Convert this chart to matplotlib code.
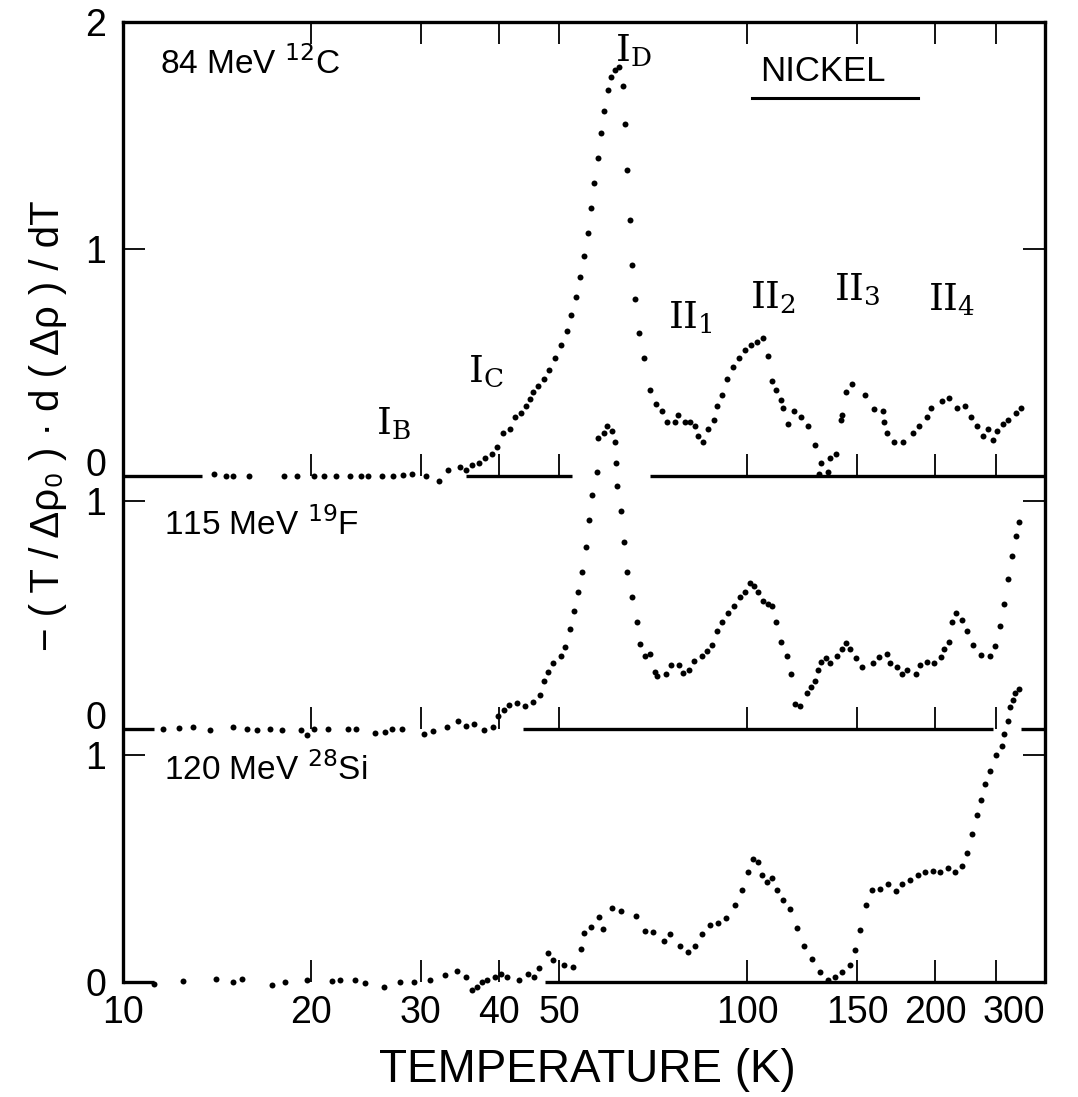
import matplotlib.pyplot as plt

# 84 MeV 12C on nickel (top trace)
c12_temp = [14.0, 14.6, 15.0, 15.9, 18.1, 19.0, 20.2, 21.0, 21.9, 23.1, 24.1, 24.7, 26.0, 27.1, 28.1, 29.0, 30.6,
            32.1, 33.2, 34.7, 35.4, 36.3, 37.2, 38.0, 39.0, 39.8, 40.6, 41.7, 42.5, 43.4, 44.2, 44.9, 45.4, 46.3,
            47.2, 48.2, 49.3, 50.4, 51.4, 52.3, 53.2, 54.0, 54.8, 55.5, 56.2, 56.9, 57.6, 58.3, 59.0, 59.8, 60.6,
            61.5, 62.4, 63.2, 63.8, 64.3, 64.8, 65.3, 66.0, 67.0, 68.3,
            69.9, 71.5, 73.1, 74.4, 76.5, 77.5, 79.4, 80.9, 82.5, 83.5, 84.8, 86.6, 88.5, 89.4, 91.2,
            92.9, 95.0, 97.1, 99.3, 101.5, 103.8, 106.1, 108.1,
            109.6, 111.1, 113.2, 114.2, 116.2, 119.0, 121.9, 125.3, 128.5, 131.4, 130.4, 134.7, 135.8, 138.9,
            141.5, 142.0, 144.1,
            147.3, 154.4, 159.7, 164.9, 165.8, 167.6, 172.0, 177.8, 184.2, 188.4, 194.3, 197.2, 205.3, 210.8,
            217.1, 223.4, 228.5, 233.6, 238.6, 243.0, 247.6, 251.6, 257.0, 261.8, 269.8, 274.5]
c12_val = [0.01, 0.0, 0.0, 0.0, 0.0, 0.0, 0.0, 0.0, 0.0, 0.0, 0.0, 0.0, 0.0, 0.0, 0.005, 0.01, 0.0,
           -0.02, 0.03, 0.04, 0.03, 0.05, 0.06, 0.08, 0.10, 0.13, 0.19, 0.21, 0.26, 0.28, 0.31, 0.34, 0.37, 0.40,
           0.43, 0.47, 0.52, 0.58, 0.64, 0.71, 0.79, 0.88, 0.97, 1.07, 1.18, 1.29, 1.40, 1.51, 1.61, 1.70, 1.76,
           1.79, 1.80, 1.72, 1.55, 1.35, 1.13, 0.93, 0.78, 0.63, 0.52,
           0.38, 0.32, 0.29, 0.24, 0.24, 0.27, 0.24, 0.24, 0.22, 0.18, 0.15, 0.21, 0.25, 0.31, 0.36,
           0.43, 0.48, 0.52, 0.555, 0.58, 0.59, 0.61, 0.53,
           0.42, 0.38, 0.335, 0.30, 0.23, 0.29, 0.26, 0.22, 0.14, 0.06, 0.01, 0.02, 0.08, 0.10,
           0.25, 0.27, 0.37,
           0.405, 0.36, 0.295, 0.29, 0.24, 0.19, 0.15, 0.15, 0.19, 0.22, 0.26, 0.30, 0.33, 0.345,
           0.30, 0.31, 0.26, 0.22, 0.18, 0.21, 0.16, 0.20, 0.23, 0.25, 0.28, 0.30]

# 115 MeV 19F (middle trace)
f19_temp = [11.6, 12.3, 12.95, 13.8, 15.0, 15.8, 16.4, 17.2, 18.0, 19.3, 19.7, 20.2, 21.3, 22.9, 23.6, 25.3,
            26.3, 27.0, 28.0, 30.3, 31.4, 33.0, 34.4, 35.4, 36.5, 37.9, 39.2, 39.9, 40.8, 41.6, 42.8, 44.1,
            45.4, 46.6, 47.3, 47.9, 48.9, 50.4, 51.0,
            52.0, 52.8, 53.6, 54.4, 55.2, 55.8, 56.4, 57.5, 57.6, 58.9, 59.7, 60.8, 61.5, 61.6, 61.9, 62.8, 63.5,
            64.3, 65.4, 66.6, 67.4,
            68.6, 69.9, 71.2, 71.7, 74.2, 75.4, 77.8, 78.9, 80.7, 82.2, 84.6, 86.2, 87.8,
            89.5, 91.2, 93.2, 95.3, 97.4, 99.3, 101.1, 102.6, 104.1, 106.1, 108.1, 109.6, 111.3, 113.4,
            115.8, 117.6, 119.1, 121.3, 124.6, 126.5, 128.2, 129.8, 131.3, 133.7, 135.5, 139.3, 141.9, 144.1,
            145.9, 149.5, 153.0, 159.1, 162.4, 167.5, 169.1, 173.8, 177.0, 180.3, 186.4, 189.3, 194.1, 198.9,
            204.4, 206.9, 210.2,
            213.1, 216.3, 221.1, 225.3, 230.0, 236.9, 244.6, 249.7, 254.0, 258.0, 262.0, 266.0, 270.0, 273.0]
f19_val = [0.0, 0.003, 0.006, -0.005, 0.006, 0.0, -0.005, 0.0, -0.005, -0.005, -0.027, 0.0, 0.0, 0.0, 0.0, -0.02,
           -0.015, 0.0, 0.0, -0.024, -0.01, 0.006, 0.032, 0.01, 0.02, -0.005, 0.006, 0.055, 0.084, 0.106, 0.113,
           0.098, 0.117, 0.147, 0.21, 0.25, 0.29, 0.32, 0.36,
           0.44, 0.52, 0.60, 0.69, 0.80, 0.92, 1.03, 1.13, 1.28, 1.30, 1.33, 1.31, 1.26, 1.17, 1.07, 0.96, 0.82,
           0.69, 0.58, 0.47, 0.374,
           0.32, 0.33, 0.25, 0.23, 0.24, 0.28, 0.28, 0.245, 0.26, 0.30, 0.32, 0.34, 0.37,
           0.43, 0.47, 0.51, 0.54, 0.58, 0.60, 0.64, 0.63, 0.60, 0.56, 0.55, 0.54, 0.47, 0.38,
           0.32, 0.24, 0.11, 0.10, 0.155, 0.185, 0.21, 0.26, 0.295, 0.31, 0.29, 0.32, 0.35, 0.375,
           0.35, 0.31, 0.27, 0.29, 0.315, 0.33, 0.29, 0.27, 0.24, 0.26, 0.24, 0.28, 0.295, 0.29,
           0.315, 0.35, 0.38,
           0.47, 0.51, 0.48, 0.43, 0.37, 0.325, 0.32, 0.365, 0.45, 0.55, 0.66, 0.76, 0.85, 0.91]

# 120 MeV 28Si (bottom trace)
si28_temp = [11.2, 12.5, 14.1, 15.0, 15.5, 17.3, 18.2, 19.7, 21.6, 22.3, 23.5, 24.4, 26.2, 27.8, 29.3, 31.0,
             32.8, 34.3, 35.4, 36.3, 36.9, 37.6, 38.3, 39.5, 40.3, 41.2, 43.1, 44.6, 45.5, 46.4, 47.9, 48.9,
             50.9, 52.6, 54.1, 54.8, 56.3, 57.9, 58.7, 60.7, 62.8, 66.3, 68.7, 70.6, 73.6,
             75.3, 78.1, 80.4, 82.5, 84.7, 87.2, 89.9, 92.5, 95.7, 98.2, 100.4, 102.2, 104.1, 105.7, 107.7,
             109.6, 111.7, 114.2, 117.2, 120.3, 123.4, 127.1, 130.9, 134.9, 138.4, 142.0, 146.3, 149.0, 151.8,
             155.2, 158.6, 163.4, 168.3, 173.4, 177.2, 182.5, 187.9, 192.9, 198.7, 203.9, 210.0, 215.4, 221.1,
             225.3, 229.4, 233.7, 237.1, 240.7, 245.2,
             250.6, 256.0, 257.5, 261.7, 264.0, 266.2, 268.9, 272.2]
si28_val = [-0.007, 0.004, 0.015, 0.0, 0.015, -0.015, 0.0, 0.007, 0.004, 0.007, 0.007, -0.004, -0.02, 0.0, 0.0,
            0.007, 0.03, 0.05, 0.02, -0.034, -0.02, 0.0, 0.007, 0.022, 0.037, 0.022, 0.01, 0.037, 0.022, 0.063,
            0.128, 0.095, 0.073, 0.066, 0.147, 0.216, 0.242, 0.286, 0.235, 0.327, 0.312, 0.289, 0.224, 0.22, 0.18,
            0.21, 0.16, 0.13, 0.16, 0.21, 0.25, 0.26, 0.28, 0.34, 0.405, 0.485, 0.54, 0.53, 0.47, 0.44,
            0.46, 0.405, 0.36, 0.32, 0.24, 0.16, 0.10, 0.045, 0.01, 0.02, 0.045, 0.075, 0.14, 0.23,
            0.34, 0.405, 0.41, 0.43, 0.40, 0.43, 0.45, 0.47, 0.485, 0.49, 0.485, 0.50, 0.485, 0.51,
            0.57, 0.65, 0.735, 0.80, 0.87, 0.93,
            1.00, 1.04, 1.09, 1.15, 1.21, 1.24, 1.27, 1.29]

# vertical offset of each trace's zero line
offsets = {'c12': 2.225, 'f19': 1.115, 'si28': 0.0}

# pieces of each zero line, left open where the dots sit on it
zero_lines = {
    'c12': [(10, 13.4), (35.4, 52.4), (69.8, 300)],
    'f19': [(10, 11.2), (43.8, 248), (275, 300)],
    'si28': [(10, 11.2), (47.4, 300)],
}

xticks = [10, 20, 30, 40, 50, 100, 150, 200, 250, 300]
xticklabels = ['10', '20', '30', '40', '50', '100', '150', '200', '', '300']
inner_ticks = [20, 30, 40, 50, 100, 150, 200, 250]

yticks = [0, 1, 1.115, 2.115, 2.225, 3.225, 4.225]
yticklabels = ['0', '1', '0', '1', '0', '1', '2']

plt.rcParams['font.family'] = ['Liberation Sans', 'DejaVu Sans']

fig = plt.figure(figsize=(10.78, 10.97), dpi=100)
ax = fig.add_axes([0.1141, 0.1048, 0.8553, 0.8751])

ax.set_xscale('log')
ax.set_xlim(10, 300)
ax.set_ylim(0, 4.225)

for key, T, v in [('c12', c12_temp, c12_val), ('f19', f19_temp, f19_val), ('si28', si28_temp, si28_val)]:
    off = offsets[key]
    ax.plot(T, [y + off for y in v], 'o', color='black', ms=4.3, mec='none', clip_on=False, zorder=3)
    for lo, hi in zero_lines[key]:
        ax.plot([lo, hi], [off, off], color='black', lw=2.4, solid_capstyle='butt', clip_on=False)
    if off > 0:
        # short upward ticks on the inner zero lines
        ax.vlines(inner_ticks, off, off + 0.097, color='black', lw=1.3)

for side in ['left', 'right', 'top']:
    ax.spines[side].set_linewidth(2.4)
ax.spines['bottom'].set_visible(False)

ax.set_xticks(xticks)
ax.set_xticklabels(xticklabels)
ax.minorticks_off()
ax.tick_params(axis='x', which='major', direction='in', length=16, width=1.3, top=True,
               labelsize=27, pad=9)
for lbl in ax.get_xticklabels():
    if lbl.get_text() == '300':
        lbl.set_horizontalalignment('right')

ax.set_yticks(yticks)
ax.set_yticklabels(yticklabels)
ax.tick_params(axis='y', direction='in', length=16, width=1.3, right=True, labelsize=27, pad=12)
# the "0" of an upper trace sits just above the "1" of the trace below it
ylbls = ax.get_yticklabels()
for i in (2, 4):
    ylbls[i].set_verticalalignment('baseline')

# trace labels
ax.text(0.040, 0.957, r'84 MeV $^{12}$C', transform=ax.transAxes, fontsize=24, va='center')
ax.text(0.045, 0.476, r'115 MeV $^{19}$F', transform=ax.transAxes, fontsize=24, va='center')
ax.text(0.045, 0.221, r'120 MeV $^{28}$Si', transform=ax.transAxes, fontsize=24, va='center')

ax.text(0.759, 0.948, 'NICKEL', transform=ax.transAxes, fontsize=25, va='center', ha='center')
ax.plot([0.682, 0.862], [0.921, 0.921], color='black', lw=2.2, transform=ax.transAxes)

# recovery stage labels
stages = [(r'$\mathrm{I}_\mathrm{B}$', 0.293, 0.581), (r'$\mathrm{I}_\mathrm{C}$', 0.393, 0.635),
          (r'$\mathrm{I}_\mathrm{D}$', 0.554, 0.970), (r'$\mathrm{II}_1$', 0.615, 0.692),
          (r'$\mathrm{II}_2$', 0.705, 0.7125), (r'$\mathrm{II}_3$', 0.796, 0.721),
          (r'$\mathrm{II}_4$', 0.899, 0.710)]
for s, x, y in stages:
    ax.text(x, y, s, transform=ax.transAxes, fontsize=27, ha='center', va='center',
            math_fontfamily='dejavuserif')

fig.text(0.5445, 0.0246, 'TEMPERATURE (K)', fontsize=33, ha='center', va='center')
fig.text(0.0445, 0.612, '\u2212 ( T / \u0394\u03c1\u2080 ) \u00b7 d ( \u0394\u03c1 ) / dT', fontsize=29,
         rotation=90, ha='center', va='center')

fig.savefig('out.png', dpi=100)
